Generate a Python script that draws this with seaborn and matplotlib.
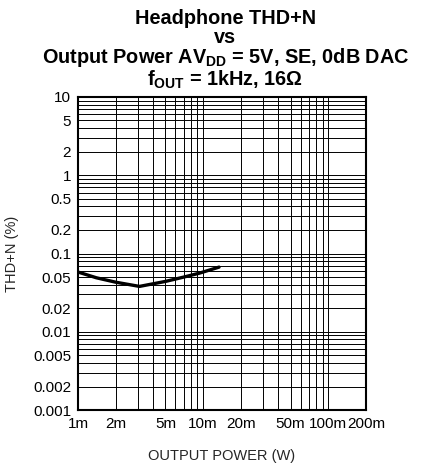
import numpy as np
import pandas as pd
import matplotlib
matplotlib.use("Agg")
import matplotlib.pyplot as plt
import seaborn as sns
from matplotlib.ticker import FixedLocator, NullFormatter

# ── Data ───────────────────────────────────────────────────
power_w = [1.0e-3, 1.4e-3, 2.0e-3, 3.1e-3, 5.0e-3, 7.0e-3, 9.3e-3, 13.4e-3]
thd_pct = [0.058, 0.049, 0.043, 0.038, 0.044, 0.050, 0.056, 0.067]

x_ticks = [1e-3, 2e-3, 5e-3, 1e-2, 2e-2, 5e-2, 1e-1, 2e-1]
x_labels = ["1m", "2m", "5m", "10m", "20m", "50m", "100m", "200m"]
y_ticks = [10, 5, 2, 1, 0.5, 0.2, 0.1, 0.05, 0.02, 0.01, 0.005, 0.002, 0.001]
y_labels = ["10", "5", "2", "1", "0.5", "0.2", "0.1", "0.05", "0.02", "0.01",
            "0.005", "0.002", "0.001"]

df = pd.DataFrame({"power": power_w, "thd": thd_pct})

# ── Style ──────────────────────────────────────────────────
sns.set_style("white")
plt.rcParams["font.family"] = ["Liberation Sans", "DejaVu Sans"]
plt.rcParams["mathtext.fontset"] = "custom"
plt.rcParams["mathtext.rm"] = "Liberation Sans"
plt.rcParams["mathtext.bf"] = "Liberation Sans:bold"

fig = plt.figure(figsize=(4.27, 4.66), dpi=100)
ax = fig.add_axes([0.1827, 0.120, 0.857 - 0.1827, 0.792 - 0.120])

sns.lineplot(data=df, x="power", y="thd", color="black", linewidth=2.4, ax=ax)

ax.set_xscale("log")
ax.set_yscale("log")
ax.set_xlim(1e-3, 0.2)
ax.set_ylim(0.001, 10)

# minor grid positions: every 1..9 multiple not already a labeled tick
def minors(lo_exp, hi_exp, majors, top):
    vals = []
    for e in range(lo_exp, hi_exp):
        for m in range(1, 10):
            v = m * 10.0 ** e
            if v <= top * 1.0001 and not any(abs(v - t) / t < 1e-6 for t in majors):
                vals.append(v)
    return vals

ax.xaxis.set_major_locator(FixedLocator(x_ticks))
ax.xaxis.set_minor_locator(FixedLocator(minors(-3, 0, x_ticks, 0.2)))
ax.set_xticklabels(x_labels)
ax.xaxis.set_minor_formatter(NullFormatter())

ax.yaxis.set_major_locator(FixedLocator(y_ticks))
ax.yaxis.set_minor_locator(FixedLocator(minors(-3, 1, y_ticks, 10)))
ax.set_yticklabels(y_labels)
ax.yaxis.set_minor_formatter(NullFormatter())

ax.grid(which="both", color="black", linewidth=0.7)
ax.tick_params(which="both", length=0, labelsize=11, pad=5, colors="black")
for s in ax.spines.values():
    s.set_color("black")
    s.set_linewidth(1.5)

ax.set_xlabel("OUTPUT POWER (W)", fontsize=10.5, labelpad=13)
ax.set_ylabel("THD+N (%)", fontsize=10.5, labelpad=10)

# ── Title ──────────────────────────────────────────────────
tx = 0.528
fs = 14.3
fig.text(tx, 0.960, "Headphone THD+N", ha="center", va="center",
         fontsize=fs, fontweight="bold", color="black")
fig.text(tx, 0.920, "vs", ha="center", va="center",
         fontsize=fs, fontweight="bold", color="black")
fig.text(tx, 0.853,
         "Output Power AV$_{\\mathbf{DD}}$ = 5V, SE, 0dB DAC\n"
         "f$_{\\mathbf{OUT}}$ = 1kHz, 16Ω",
         ha="center", va="center", multialignment="center", linespacing=0.95,
         fontsize=fs, fontweight="bold", color="black")

fig.savefig("out.png", dpi=100)
